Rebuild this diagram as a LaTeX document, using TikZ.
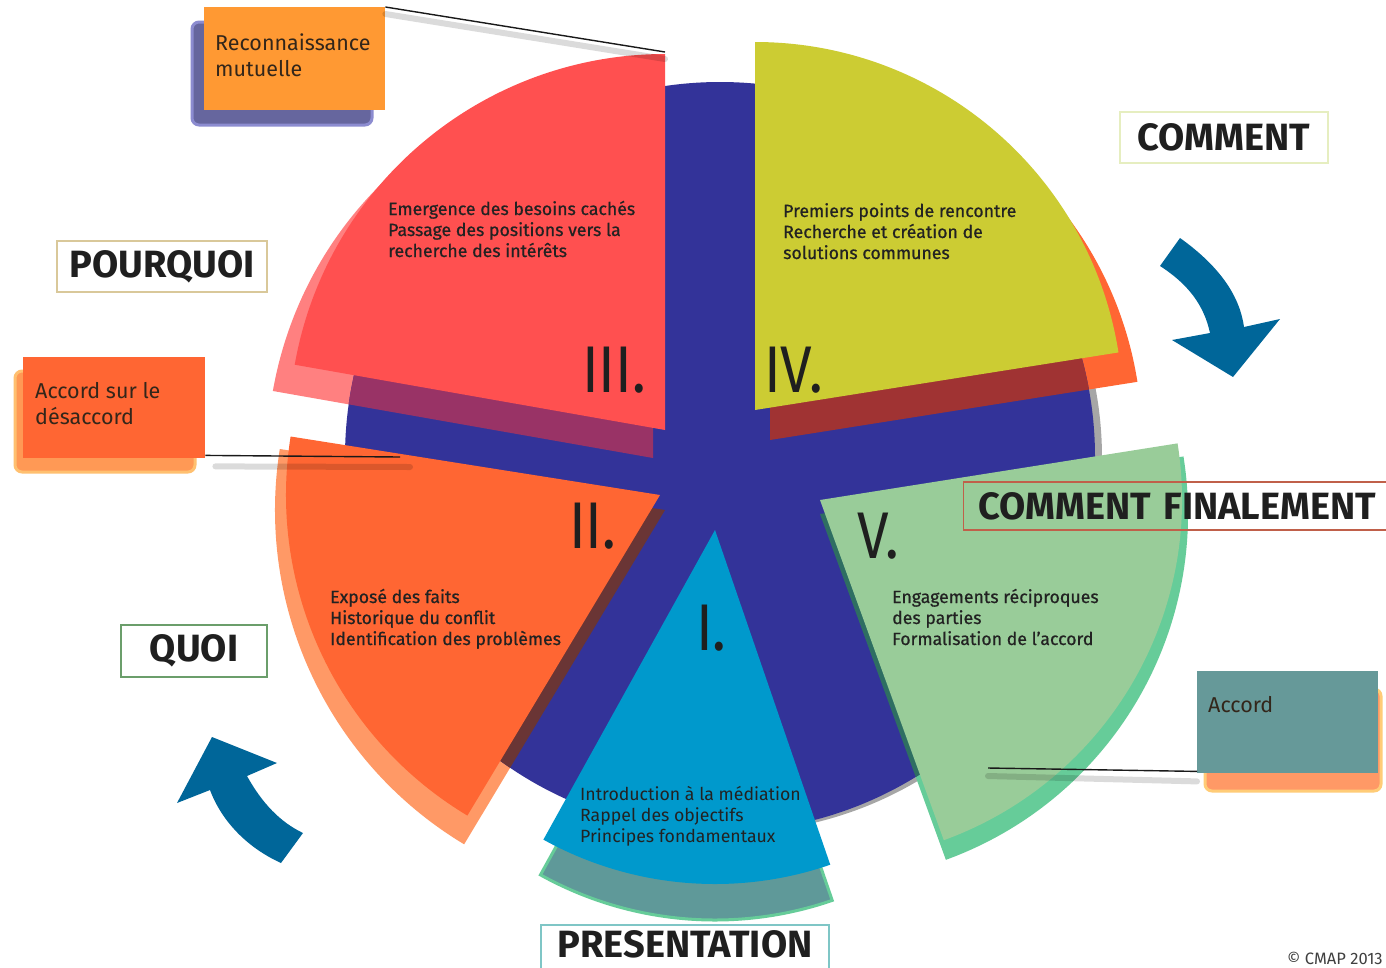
\documentclass[tikz,border=0pt]{standalone}
\usepackage{fontspec}
\setmainfont{Fira Sans}
\newfontfamily\heavyish[FakeBold=0.7]{Fira Sans}

\definecolor{diskblue}{HTML}{333399}
\definecolor{secred}{HTML}{FF5050}
\definecolor{secolive}{HTML}{CCCC33}
\definecolor{secorange}{HTML}{FF6633}
\definecolor{secgreen}{HTML}{99CC99}
\definecolor{seccyan}{HTML}{0099CC}
\definecolor{shpink}{HTML}{FF8080}
\definecolor{shpurple}{HTML}{993366}
\definecolor{shorange}{HTML}{FF6633}
\definecolor{shdarkred}{HTML}{A03333}
\definecolor{shlightorange}{HTML}{FF9966}
\definecolor{shbrown}{HTML}{6A3535}
\definecolor{shteal}{HTML}{66CC99}
\definecolor{shdarkteal}{HTML}{2E6E62}
\definecolor{shgrayteal}{HTML}{5F9999}
\definecolor{arrowblue}{HTML}{006699}
\definecolor{recfill}{HTML}{FF9933}
\definecolor{recshadow}{HTML}{66669E}
\definecolor{recglow}{HTML}{8C8CD0}
\definecolor{desfill}{HTML}{FF6633}
\definecolor{desshadow}{HTML}{FF9955}
\definecolor{desglow}{HTML}{FFC070}
\definecolor{accfill}{HTML}{669999}
\definecolor{accshadow}{HTML}{FF9966}
\definecolor{accglow}{HTML}{FFCC77}
\definecolor{bdtan}{HTML}{D9C89A}
\definecolor{bdpale}{HTML}{E6EEC0}
\definecolor{bdgreen}{HTML}{6B9E6B}
\definecolor{bdteal}{HTML}{7FC6C6}
\definecolor{bdbrick}{HTML}{C0604A}
\definecolor{inktext}{HTML}{222222}
\definecolor{calltext}{HTML}{33261A}

% filled pie wedge: style, apex, start angle, end angle, radius
\newcommand\sectorfill[5]{\fill[#1] (#2) -- ++(#3:#5) arc[start angle=#3, end angle=#4, radius=#5] -- cycle;}
% narrow roman numerals
\newcommand\numtext[1]{\scalebox{0.86}[1]{#1}}

\begin{document}
\begin{tikzpicture}[x=1pt,y=1pt,
  titlefont/.style={font=\bfseries\fontsize{38}{40}\selectfont, text=black!88, inner sep=0pt},
  titlebox/.style={draw=#1, line width=1.1pt, titlefont, align=center},
  callbox/.style={fill=#1, inner sep=0pt, anchor=north west},
  callshadow/.style={rounded corners=7pt, line width=3pt},
  calltxt/.style={font=\fontsize{21.5}{26}\selectfont, text=calltext, align=left, anchor=base west, inner sep=0pt},
  sectxt/.style={font=\heavyish\fontsize{17.7}{21}\selectfont, text=inktext, align=left, anchor=base west, inner sep=0pt},
  numeral/.style={font=\fontsize{66}{66}\selectfont, text=black!88, anchor=base west, inner sep=0pt},
  link/.style={draw=black!90, line width=1.4pt},
  linkshadow/.style={draw=black, opacity=0.14, line width=6pt, line cap=round},
]
\clip (0,0) rectangle (1386,-967);
\fill[white] (0,0) rectangle (1386,-967);

% ---- wheel: outer shadows of the wedges (outside the disk)
\fill[black, opacity=0.35] (727,-458) circle[radius=375];
\sectorfill{shpink, shift={(-12,-30)}}{665,-428}{90}{170}{386}
\sectorfill{shorange, shift={(15,-30)}}{755,-410}{9}{90}{372}
\sectorfill{shlightorange, shift={(5,-15)}}{660,-495}{171}{239}{390}
\sectorfill{shteal, shift={(0,-14)}}{820,-500}{-70}{9}{368}
\sectorfill{shgrayteal, draw=shteal, line width=3pt, shift={(0,-30)}}{715,-530}{-119}{-71}{360}

% ---- central disk
\fill[diskblue] (720,-457) circle[radius=375];

% ---- wedge shadows falling on the disk
\begin{scope}
  \clip (720,-457) circle[radius=375];
  \sectorfill{shpurple, shift={(-12,-30)}}{665,-428}{90}{170}{386}
  \sectorfill{shdarkred, shift={(15,-30)}}{755,-410}{9}{90}{372}
  \sectorfill{shbrown, shift={(5,-15)}}{660,-495}{171}{239}{390}
  \sectorfill{shdarkteal, shift={(0,-14)}}{820,-500}{-70}{9}{368}
\end{scope}

% ---- the five wedges
\sectorfill{secred}{665,-430}{90}{170}{376}
\sectorfill{secolive}{755,-410}{9}{90}{368}
\sectorfill{secorange}{660,-495}{171}{239}{374}
\sectorfill{secgreen}{820,-500}{-70}{9}{362}
\sectorfill{seccyan}{715,-530}{-119}{-71}{354}

% ---- wedge numerals
\node[numeral] (n3) at (582,-392) {\numtext{III.}};
\node[numeral] (n4) at (764,-392) {\numtext{IV.}};
\node[numeral] (n2) at (569,-548) {\numtext{II.}};
\node[numeral] (n1) at (696,-650) {\numtext{I.}};
\node[numeral] (n5) at (857,-558) {\numtext{V.}};

% ---- wedge contents (anchored on the baseline of the last line)
\node[sectxt] (t3) at (388,-257) {Emergence des besoins cachés\\Passage des positions vers la\\recherche des intérêts};
\node[sectxt] (t4) at (783,-259) {Premiers points de rencontre\\Recherche et création de\\solutions communes};
\node[sectxt] (t2) at (330,-645) {Exposé des faits\\Historique du conflit\\Identification des problèmes};
\node[sectxt] (t5) at (892,-645) {Engagements réciproques\\des parties\\Formalisation de l’accord};
\node[sectxt, font=\fontsize{17.7}{21}\selectfont] (t1) at (580,-842) {Introduction à la médiation\\Rappel des objectifs\\Principes fondamentaux};

% ---- curved flow arrows
\fill[arrowblue] (1180,-238) .. controls (1222,-268) and (1240,-298) .. (1244,-327)
  -- (1280,-319) -- (1233,-377) -- (1172,-340) -- (1210,-333)
  .. controls (1204,-305) and (1188,-284) .. (1160,-266) -- cycle;
\fill[arrowblue] (212,-737) -- (277,-763) -- (247,-776)
  .. controls (262,-803) and (280,-822) .. (303,-833) -- (281,-863)
  .. controls (248,-848) and (222,-822) .. (210,-790) -- (177,-803) -- cycle;

% ---- question labels
\node[titlebox=bdtan, minimum width=210, minimum height=51] (pourquoi) at (162,-266.5) {POURQUOI};
\node[titlebox=bdpale, minimum width=208, minimum height=51] (comment) at (1224,-137.5) {COMMENT};
\node[titlebox=bdgreen, minimum width=146, minimum height=52] (quoi) at (194,-651) {QUOI};
\node[titlefont, anchor=base] (presentation) at (685,-957) {PRESENTATION};
\draw[bdteal, line width=1.1pt] (541,-990) |- (829,-925) -- (829,-990);
\node[titlebox=bdbrick, anchor=west, inner xsep=15pt, text width=410pt, align=left, minimum height=48] (finalement) at (963,-506) {COMMENT FINALEMENT};

% ---- callout boxes with their drop shadows
\fill[recshadow, draw=recglow, callshadow] (192,-22) rectangle (372,-125);
\node[callbox=recfill, minimum width=181, minimum height=103] (recon) at (204,-7) {};
\node[calltxt] (recontxt) at (215,-76) {Reconnaissance\\mutuelle};

\fill[desshadow, draw=desglow, callshadow] (15,-371) rectangle (195,-472);
\node[callbox=desfill, minimum width=182, minimum height=101] (desac) at (23,-357) {};
\node[calltxt] (desactxt) at (35,-424) {Accord sur le\\désaccord};

\fill[accshadow, draw=accglow, callshadow] (1205,-689) rectangle (1381,-791);
\node[callbox=accfill, minimum width=181, minimum height=102] (accord) at (1197,-671) {};
\node[calltxt] (accordtxt) at (1208,-712) {Accord};

% ---- callout leader lines
\coordinate (recon-end) at (665,-52);
\coordinate (desac-end) at (400,-457);
\coordinate (accord-end) at (988,-768);
\draw[linkshadow] ([yshift=-7pt]recon.north east) -- ([yshift=-7pt]recon-end);
\draw[link] (recon.north east) -- (recon-end);
\draw[linkshadow] ([xshift=10pt,yshift=-8pt]desac.south east) -- ([xshift=10pt,yshift=-10pt]desac-end);
\draw[link] ([yshift=3pt]desac.south east) -- (desac-end);
\draw[linkshadow] ([yshift=-8pt]accord.south west) -- ([yshift=-8pt]accord-end);
\draw[link] ([yshift=2pt]accord.south west) -- (accord-end);

% ---- credit line
\node[anchor=base west, inner sep=0pt, font=\fontsize{16.5}{16.5}\selectfont, text=black!75] (credit) at (1287,-964) {© CMAP 2013};
\end{tikzpicture}
\end{document}
